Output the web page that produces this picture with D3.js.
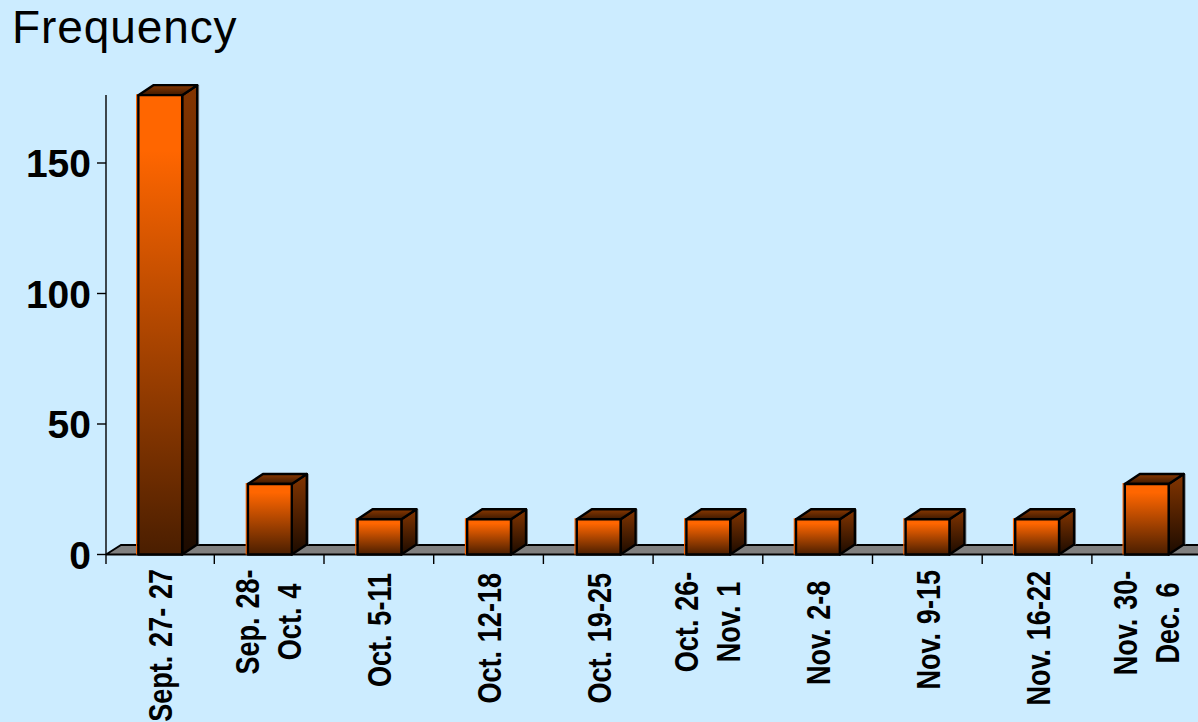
<!DOCTYPE html>
<html><head><meta charset="utf-8">
<script src="https://cdn.jsdelivr.net/npm/d3@7/dist/d3.min.js"></script>
<style>html,body{margin:0;padding:0;background:#CCECFF;overflow:hidden}svg{display:block}text{font-family:"Liberation Sans",Arial,sans-serif}</style>
</head><body><svg id="c" width="1198" height="722"></svg>
<script>
const categories = ["Sept. 27- 27","Sep. 28-|Oct. 4","Oct. 5-11","Oct. 12-18","Oct. 19-25","Oct. 26-|Nov. 1","Nov. 2-8","Nov. 9-15","Nov. 16-22","Nov. 30-|Dec. 6"];
const frequency = [176,27,13.5,13.5,13.5,13.5,13.5,13.5,13.5,27];
const yTicks = [0,50,100,150];
const titleText = "Frequency";

const svg = d3.select("#c");
const x = d3.scaleBand().domain(categories).range([106,1201]).paddingInner(0.6).paddingOuter(0.295);
const y = d3.scaleLinear().domain([0,150]).range([554.5,163]);
const dx = 15, dy = 10;
const defs = svg.append("defs");
function grad(id,x2,y2,stops){
  const g = defs.append("linearGradient").attr("id",id).attr("x1",0).attr("y1",0).attr("x2",x2).attr("y2",y2);
  stops.forEach(s=>g.append("stop").attr("offset",s[0]).attr("stop-color",s[1]));
}
grad("front",0,1,[[0,"#FF6600"],[0.12,"#FF6600"],[1,"#4A1E00"]]);
grad("side",0,1,[[0,"#843500"],[1,"#1C0B00"]]);
grad("top",0,1,[[0,"#8A3800"],[1,"#3E1900"]]);

svg.append("text").attr("x",12).attr("y",43).attr("font-size",46).attr("letter-spacing",0.9).attr("fill","#000").text(titleText);

// floor
const y0 = y(0);
svg.append("path").attr("d",d3.line()([[106,y0],[121,y0-dy+0.5],[1199,y0-dy+0.5],[1199,y0],[106,y0]]))
  .attr("fill","#808080").attr("stroke","#000").attr("stroke-width",1.8);

// bars
const bars = svg.append("g").selectAll("g").data(categories).join("g");
const bw = x.bandwidth();
bars.each(function(c,i){
  const g = d3.select(this), l = x(c), r = l+bw, t = y(frequency[i]);
  const add=(pts,fill)=>g.append("path").attr("d",d3.line()(pts)+"Z").attr("fill",fill)
    .attr("stroke","#000").attr("stroke-width",2.4).attr("stroke-linejoin","round");
  g.append("line").attr("x1",l-1.6).attr("x2",l-1.6).attr("y1",t-1).attr("y2",y0).attr("stroke","#FF6600").attr("stroke-width",1.4);
  g.append("line").attr("x1",r+dx+1.5).attr("x2",r+dx+1.5).attr("y1",t-dy).attr("y2",y0-dy).attr("stroke","#808890").attr("stroke-width",1);
  add([[r,t],[r+dx,t-dy],[r+dx,y0-dy],[r,y0]],"url(#side)");
  add([[l,t],[l+dx,t-dy],[r+dx,t-dy],[r,t]],"url(#top)");
  add([[l,t],[r,t],[r,y0],[l,y0]],"url(#front)");
});

// y axis
svg.append("line").attr("x1",106).attr("x2",106).attr("y1",95).attr("y2",564).attr("stroke","#000").attr("stroke-width",1.4);
svg.append("g").selectAll("line").data(yTicks).join("line")
  .attr("x1",97).attr("x2",106).attr("y1",d=>y(d)).attr("y2",d=>y(d)).attr("stroke","#000").attr("stroke-width",1.4);
svg.append("g").selectAll("text").data(yTicks).join("text")
  .attr("x",91).attr("y",d=>y(d)+14).attr("text-anchor","end").attr("font-size",39).attr("font-weight","bold").text(d=>d);

// x ticks
const step = 109.7, tick0 = 104.6;
svg.append("g").selectAll("line").data(categories.slice(0,-1)).join("line")
  .attr("x1",(d,i)=>tick0+step*(i+1)).attr("x2",(d,i)=>tick0+step*(i+1)).attr("y1",y0).attr("y2",564).attr("stroke","#000").attr("stroke-width",1.4);

// x labels: single lines hang from the top, two-line labels are centred
const topShift = [569,622,573,573,573,622,580.6,570,571,623];
const labs = svg.append("g").selectAll("g").data(categories).join("g")
  .attr("transform",(d,i)=>`translate(${tick0+step*(i+0.5)+(d.includes("|")?11:12.5)},${topShift[i]}) rotate(-90) scale(0.82,1)`);
labs.each(function(c){
  const parts = c.split("|"), g = d3.select(this);
  parts.forEach((p,j)=>g.append("text")
    .attr("y",(j-(parts.length-1)/2)*42)
    .attr("text-anchor",parts.length>1?"middle":"end")
    .attr("word-spacing",1.5)
    .attr("font-size",33).attr("font-weight","bold").text(p));
});
</script></body></html>
